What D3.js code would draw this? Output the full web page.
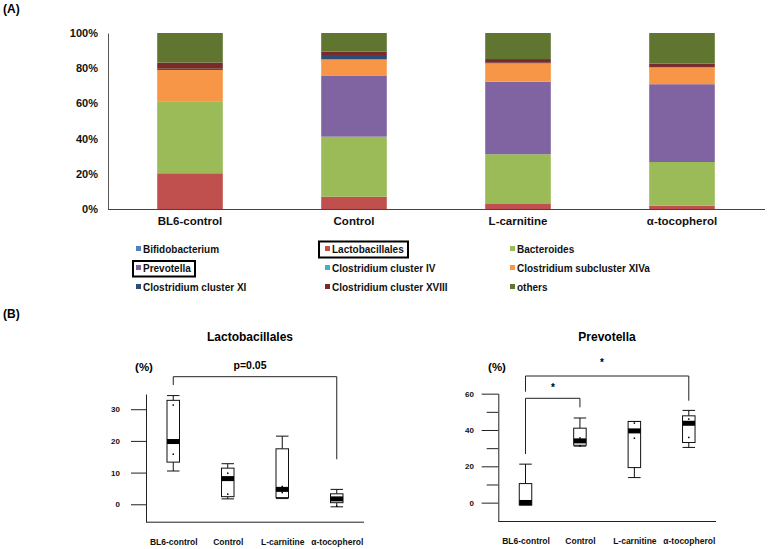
<!DOCTYPE html>
<html>
<head>
<meta charset="utf-8">
<script src="https://cdn.jsdelivr.net/npm/d3@7"></script>
<style>
  html, body { margin: 0; padding: 0; background: #fff; }
  svg { display: block; font-family: "Liberation Sans", Arial, sans-serif; font-weight: bold; }
</style>
</head>
<body>
<svg id="chart" width="770" height="549"></svg>
<script>
// ---------- DATA ----------
const categories = ["BL6-control", "Control", "L-carnitine", "α-tocopherol"];
const taxa = ["Bifidobacterium", "Lactobacillales", "Bacteroides", "Prevotella",
  "Clostridium cluster IV", "Clostridium subcluster XIVa", "Clostridium cluster XI",
  "Clostridium cluster XVIII", "others"];
const taxaColors = ["#4F81BD", "#C0504D", "#9BBB59", "#8064A2", "#4BACC6",
  "#F79646", "#2C4D75", "#772C2A", "#5F7530"];
// percent composition per category
const bifidobacterium   = [0, 0, 0, 0];
const lactobacillales   = [20.3, 7.0, 3.2, 1.9];
const bacteroides       = [40.7, 34.1, 27.9, 24.8];
const prevotella        = [0.2, 34.5, 41.2, 44.2];
const clostridiumIV     = [0, 0, 0, 0];
const clostridiumXIVa   = [17.8, 9.4, 10.5, 9.6];
const clostridiumXI     = [0.7, 2.5, 0.3, 0.2];
const clostridiumXVIII  = [3.5, 1.9, 2.1, 1.9];
const others            = [16.8, 10.6, 14.8, 17.4];
const percentTicks = [0, 20, 40, 60, 80, 100];

// box plot: Lactobacillales (%)
const lactoLow    = [10.5, 1.7, 1.8, -0.8];
const lactoQ1     = [13.3, 2.4, 2.1, 0.5];
const lactoMedian = [19.8, 8.1, 4.7, 1.7];
const lactoQ3     = [32.8, 11.4, 17.5, 3.3];
const lactoHigh   = [34.3, 12.8, 21.5, 4.7];
const lactoPoints = [[31.3, 15.8], [9.8, 3.2], [5.6, 3.7], [-0.6]];
const lactoTicks  = [0, 10, 20, 30];

// box plot: Prevotella (%)
const prevLow    = [-1.3, 31.1, 13.8, 30.4];
const prevQ1     = [-1.3, 31.6, 19.3, 33.1];
const prevMedian = [0.1, 34.0, 39.5, 43.7];
const prevQ3     = [10.5, 41.0, 44.7, 47.8];
const prevHigh   = [21.2, 46.6, 44.7, 50.8];
const prevPoints = [[], [35.6, 31.3], [43.8, 35.5], [46.0, 35.9]];
const prevMajorTicks = [0, 20, 40, 60];
const prevMinorTicks = [10, 30, 50];

// ---------- DRAW ----------
const svg = d3.select("#chart");
const seriesArrays = [bifidobacterium, lactobacillales, bacteroides, prevotella,
  clostridiumIV, clostridiumXIVa, clostridiumXI, clostridiumXVIII, others];
const table = categories.map((c, i) => {
  const row = { category: c };
  taxa.forEach((t, j) => row[t] = seriesArrays[j][i]);
  return row;
});

// panel label
svg.append("text").attr("x", 3).attr("y", 13).attr("font-size", 12).text("(A)");

// ---- stacked bar chart ----
const x = d3.scaleBand().domain(categories).range([108, 764]).paddingInner(0.6).paddingOuter(0.3);
const y = d3.scaleLinear().domain([0, 100]).range([209, 33]);
const stack = d3.stack().keys(taxa)(table);
const color = d3.scaleOrdinal().domain(taxa).range(taxaColors);

svg.append("g").selectAll("g").data(stack).join("g")
  .attr("fill", d => color(d.key))
  .selectAll("rect").data(d => d).join("rect")
  .attr("x", d => x(d.data.category))
  .attr("width", x.bandwidth())
  .attr("y", d => y(d[1]))
  .attr("height", d => Math.max(0, y(d[0]) - y(d[1])));

const yAx = svg.append("g").attr("transform", "translate(108,0)")
  .call(d3.axisLeft(y).tickValues(percentTicks).tickFormat(d => d + "%").tickSize(0).tickPadding(10));
yAx.select(".domain").attr("stroke", "#555");
yAx.selectAll("text").attr("font-size", 11).attr("font-family", "Liberation Sans, Arial").attr("font-weight", "bold").attr("fill", "#111");

const xAx = svg.append("g").attr("transform", "translate(0,209)")
  .call(d3.axisBottom(x).tickSize(0).tickPadding(8));
xAx.select(".domain").attr("stroke", "#444").attr("d", "M108,0.5H765");
xAx.selectAll("text").attr("font-size", 11.5).attr("font-family", "Liberation Sans, Arial").attr("font-weight", "bold").attr("fill", "#111");

// ---- legend ----
const legCols = [139, 328, 513], legRows = [249, 268, 287];
const leg = svg.append("g").selectAll("g").data(taxa).join("g")
  .attr("transform", (d, i) => `translate(${legCols[i % 3]},${legRows[Math.floor(i / 3)]})`);
leg.append("rect").attr("x", -3).attr("y", -3).attr("width", 5).attr("height", 5).attr("fill", d => color(d));
leg.append("text").attr("x", 4).attr("y", 3.5).attr("font-size", 10).attr("fill", "#111").text(d => d);
// highlight boxes
svg.append("rect").attr("x", 319).attr("y", 241.5).attr("width", 89).attr("height", 16)
  .attr("fill", "none").attr("stroke", "#000").attr("stroke-width", 2);
svg.append("rect").attr("x", 133).attr("y", 261).attr("width", 62).attr("height", 15.5)
  .attr("fill", "none").attr("stroke", "#000").attr("stroke-width", 2);

svg.append("text").attr("x", 3).attr("y", 318).attr("font-size", 12).text("(B)");

// ---- box plots ----
function boxPanel(opt) {
  const g = svg.append("g");
  const bx = d3.scalePoint().domain(categories).range([opt.x0, opt.x1]).padding(0.5);
  const by = d3.scaleLinear().domain(opt.domain).range([opt.yBottom, opt.yTop]);
  const bw = 12.5;

  g.append("text").attr("x", opt.titleX).attr("y", 341).attr("text-anchor", "middle")
    .attr("font-size", 12).text(opt.title);
  g.append("text").attr("x", opt.pctX).attr("y", 371).attr("text-anchor", "middle")
    .attr("font-size", 11.5).text("(%)");

  const ax = g.append("g").attr("transform", `translate(${opt.x0},0)`)
    .call(d3.axisLeft(by).tickValues(opt.ticks).tickSize(opt.tickLen).tickSizeOuter(0).tickPadding(opt.pad));
  ax.selectAll("text").attr("font-size", 8).attr("font-family", "Liberation Sans, Arial").attr("font-weight", "bold").attr("fill", "#111");
  ax.selectAll("line").attr("stroke", "#222");
  ax.select(".domain").attr("stroke", "#222");
  if (opt.minor) {
    const mx = g.append("g").attr("transform", `translate(${opt.x0},0)`)
      .call(d3.axisLeft(by).tickValues(opt.minor).tickSize(opt.minorLen).tickSizeOuter(0).tickFormat(""));
    mx.select(".domain").remove();
    mx.selectAll("line").attr("stroke", "#222");
  }
  const xa = g.append("g").attr("transform", `translate(0,${opt.yBottom})`)
    .call(d3.axisBottom(bx).tickSize(0).tickPadding(17));
  xa.select(".domain").attr("stroke", "#222").attr("d", `M${opt.x0},0.5H${opt.x1}`);
  xa.selectAll("text").attr("font-size", 8.5).attr("font-family", "Liberation Sans, Arial").attr("font-weight", "bold").attr("fill", "#111");

  categories.forEach((c, i) => {
    const cx = bx(c);
    const gg = g.append("g").attr("stroke", "#111").attr("stroke-width", 1);
    gg.append("line").attr("x1", cx).attr("x2", cx).attr("y1", by(opt.high[i])).attr("y2", by(opt.q3[i]));
    gg.append("line").attr("x1", cx).attr("x2", cx).attr("y1", by(opt.low[i])).attr("y2", by(opt.q1[i]));
    gg.append("line").attr("x1", cx - bw / 2).attr("x2", cx + bw / 2).attr("y1", by(opt.high[i])).attr("y2", by(opt.high[i]));
    gg.append("line").attr("x1", cx - bw / 2).attr("x2", cx + bw / 2).attr("y1", by(opt.low[i])).attr("y2", by(opt.low[i]));
    gg.append("rect").attr("x", cx - bw / 2).attr("width", bw)
      .attr("y", by(opt.q3[i])).attr("height", by(opt.q1[i]) - by(opt.q3[i])).attr("fill", "#fff");
    const my = Math.min(Math.max(by(opt.median[i]), by(opt.q3[i]) + 2.5), by(opt.q1[i]) - 2.5);
    g.append("rect").attr("x", cx - bw / 2).attr("width", bw).attr("y", my - 2.5).attr("height", 5).attr("fill", "#000");
    g.selectAll(null).data(opt.points[i]).join("rect")
      .attr("x", cx - 0.75).attr("y", d => by(d) - 0.75).attr("width", 1.5).attr("height", 1.5).attr("fill", "#000");
  });
  return { bx, by };
}

const lp = boxPanel({
  title: "Lactobacillales", titleX: 250, pctX: 144,
  x0: 146, x1: 364, domain: [-5.5, 34.8], yBottom: 521.7, yTop: 394,
  ticks: lactoTicks, tickLen: 15, pad: 11,
  low: lactoLow, q1: lactoQ1, median: lactoMedian, q3: lactoQ3, high: lactoHigh, points: lactoPoints
});
// significance bracket
const lb = svg.append("g").attr("stroke", "#222").attr("fill", "none");
lb.append("path").attr("d", `M${lp.bx(categories[0])},385V376.7H${lp.bx(categories[3])}V459.3`);
svg.append("text").attr("x", 250).attr("y", 369).attr("text-anchor", "middle").attr("font-size", 10.5).text("p=0.05");

const pp = boxPanel({
  title: "Prevotella", titleX: 607, pctX: 497,
  x0: 498.3, x1: 716, domain: [-10.1, 60.2], yBottom: 521, yTop: 393.3,
  ticks: prevMajorTicks, tickLen: 16.6, pad: 7.7, minor: prevMinorTicks, minorLen: 11.6,
  low: prevLow, q1: prevQ1, median: prevMedian, q3: prevQ3, high: prevHigh, points: prevPoints
});
const pb = svg.append("g").attr("stroke", "#222").attr("fill", "none");
pb.append("path").attr("d", `M${pp.bx(categories[0])},391.7V376H${pp.bx(categories[3])}V400.7`);
pb.append("path").attr("d", `M${pp.bx(categories[0])},454V398.3H${pp.bx(categories[1])}V407.3`);
svg.append("text").attr("x", 602).attr("y", 366).attr("text-anchor", "middle").attr("font-size", 10).text("*");
svg.append("text").attr("x", 553).attr("y", 391).attr("text-anchor", "middle").attr("font-size", 10).text("*");
</script>
</body>
</html>
